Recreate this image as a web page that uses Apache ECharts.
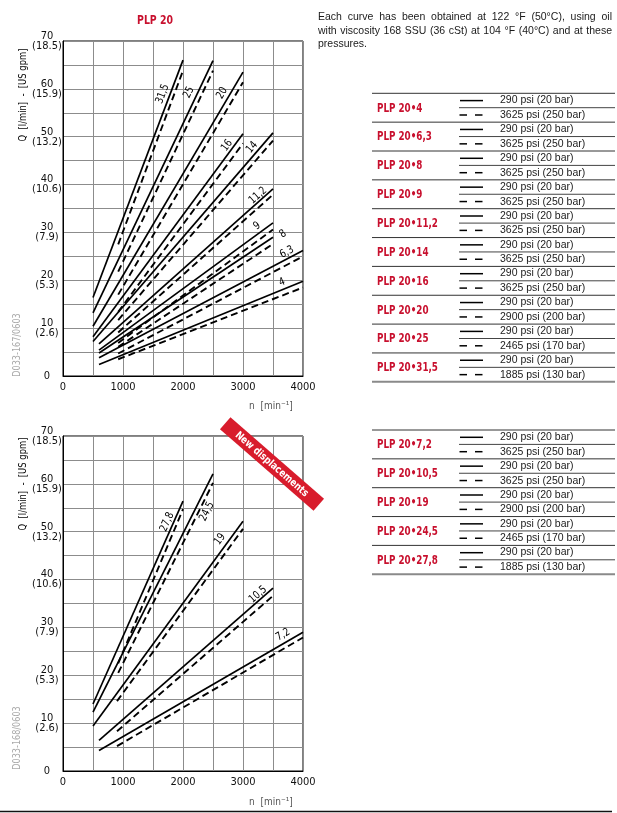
<!DOCTYPE html>
<html>
<head>
<meta charset="utf-8">
<script src="https://cdn.jsdelivr.net/npm/echarts@6/dist/echarts.min.js"></script>
<style>
html, body { margin: 0; padding: 0; background: #fff; }
#main { width: 617px; height: 813px; }
</style>
</head>
<body>
<div id="main"></div>
<script>
// top chart: PLP 20 standard displacements, [rpm, l/min]
var topNames = ['31,5', '25', '20', '16', '14', '11,2', '9', '8', '6,3', '4'];
var topSolidFrom = [[500, 16.4], [500, 13.2], [500, 10.4], [500, 8.2], [500, 7.2], [600, 6.7], [600, 5.4], [600, 4.8], [600, 3.8], [600, 2.4]];
var topSolidTo = [[2000, 66.0], [2500, 65.9], [3000, 63.5], [3000, 50.6], [3500, 50.8], [3500, 39.1], [3500, 32.0], [3500, 29.0], [4000, 26.2], [4000, 19.8]];
var topDashFrom = [[920, 27.5], [920, 21.8], [920, 17.0], [920, 13.4], [920, 11.7], [920, 9.1], [920, 6.9], [920, 6.1], [920, 4.7], [920, 3.5]];
var topDashTo = [[2000, 63.8], [2500, 63.8], [3000, 61.4], [3000, 48.6], [3500, 49.2], [3500, 37.9], [3500, 30.6], [3500, 27.6], [4000, 25.0], [4000, 18.5]];

// bottom chart: new displacements
var botNames = ['27,8', '24,5', '19', '10,5', '7,2'];
var botSolidFrom = [[500, 14.0], [500, 12.3], [500, 9.4], [600, 6.4], [600, 4.3]];
var botSolidTo = [[2000, 56.4], [2500, 62.1], [3000, 52.2], [3500, 38.2], [4000, 29.0]];
var botDashFrom = [[920, 22.5], [920, 20.5], [900, 14.6], [900, 8.3], [900, 5.2]];
var botDashTo = [[2000, 54.7], [2500, 60.2], [3000, 50.6], [3500, 36.6], [4000, 27.9]];

// y tick labels, US gpm under l/min
var gpmTicks = ['', '(2.6)', '(5.3)', '(7.9)', '(10.6)', '(13.2)', '(15.9)', '(18.5)'];

// legend tables
var topModels = ['PLP 20\u20224', 'PLP 20\u20226,3', 'PLP 20\u20228', 'PLP 20\u20229', 'PLP 20\u202211,2', 'PLP 20\u202214', 'PLP 20\u202216', 'PLP 20\u202220', 'PLP 20\u202225', 'PLP 20\u202231,5'];
var topHighP = ['3625 psi (250 bar)', '3625 psi (250 bar)', '3625 psi (250 bar)', '3625 psi (250 bar)', '3625 psi (250 bar)', '3625 psi (250 bar)', '3625 psi (250 bar)', '2900 psi (200 bar)', '2465 psi (170 bar)', '1885 psi (130 bar)'];
var botModels = ['PLP 20\u20227,2', 'PLP 20\u202210,5', 'PLP 20\u202219', 'PLP 20\u202224,5', 'PLP 20\u202227,8'];
var botHighP = ['3625 psi (250 bar)', '3625 psi (250 bar)', '2900 psi (200 bar)', '2465 psi (170 bar)', '1885 psi (130 bar)'];
var lowP = '290 psi (20 bar)';

var noteLines = [
    'Each curve has been obtained at 122 \u00b0F (50\u00b0C), using oil',
    'with viscosity 168 SSU (36 cSt) at 104 \u00b0F (40\u00b0C) and at these',
    'pressures.'
];

var NARROW = "'Liberation Sans Narrow', 'DejaVu Sans Condensed', sans-serif";
var SANS = "'Liberation Sans', Arial, sans-serif";
var RED = '#c8102e';

var myChart = echarts.init(document.getElementById('main'), null, { renderer: 'canvas' });

function xAx(gi) {
    return {
        type: 'value', gridIndex: gi, min: 0, max: 4000, interval: 500,
        axisLine: { show: true, lineStyle: { color: '#000', width: 1 } },
        axisTick: { show: false },
        splitLine: { show: true, lineStyle: { color: '#8c8c8c', width: 1 } },
        axisLabel: {
            margin: 6, fontFamily: NARROW, fontSize: 11, color: '#111',
            formatter: function (v) { return v % 1000 === 0 ? String(v) : ''; }
        }
    };
}
function yAx(gi) {
    return {
        type: 'value', gridIndex: gi, min: 0, max: 70, interval: 5,
        axisLine: { show: true, lineStyle: { color: '#000', width: 1 } },
        axisTick: { show: false },
        splitLine: { show: true, lineStyle: { color: '#8c8c8c', width: 1 } },
        axisLabel: {
            margin: 16, align: 'center', lineHeight: 10, fontFamily: NARROW, fontSize: 11, color: '#111',
            formatter: function (v) {
                if (v % 10 !== 0) return '';
                if (v === 0) return '0';
                return v + '\n' + gpmTicks[v / 10];
            }
        }
    };
}

function addSeries(list, gi, from, to, dashed) {
    for (var i = 0; i < from.length; i++) {
        list.push({
            type: 'line', xAxisIndex: gi, yAxisIndex: gi,
            data: [from[i], to[i]],
            symbol: 'none', silent: true, z: 5,
            lineStyle: { color: '#000', width: dashed ? 1.9 : 1.7, type: dashed ? [7, 4] : 'solid' }
        });
    }
}

var series = [];
addSeries(series, 0, topSolidFrom, topSolidTo, false);
addSeries(series, 0, topDashFrom, topDashTo, true);
addSeries(series, 1, botSolidFrom, botSolidTo, false);
addSeries(series, 1, botDashFrom, botDashTo, true);

option = {
    animation: false,
    backgroundColor: '#fff',
    grid: [
        { left: 63, top: 41, width: 240, height: 335, show: true, borderColor: '#000', borderWidth: 1 },
        { left: 63, top: 436, width: 240, height: 335, show: true, borderColor: '#000', borderWidth: 1 }
    ],
    xAxis: [xAx(0), xAx(1)],
    yAxis: [yAx(0), yAx(1)],
    series: series
};
myChart.setOption(option);

// ---- overlay texts ----
var g = [];

function txt(x, y, s, font, fill, extra) {
    var o = {
        type: 'text', x: x, y: y, z: 20, silent: true,
        style: { text: s, font: font, fill: fill || '#000', align: 'center', verticalAlign: 'middle', textAlign: 'center', textVerticalAlign: 'middle' }
    };
    if (extra) { for (var k in extra) o[k] = extra[k]; }
    if (extra && extra.align) { o.style.align = extra.align; o.style.textAlign = extra.align; delete o.align; }
    return o;
}
function ln(x1, y1, x2, y2, color, w) {
    return { type: 'line', z: 20, silent: true, shape: { x1: x1, y1: y1, x2: x2, y2: y2 }, style: { stroke: color, lineWidth: w } };
}

// curve labels: spot = [rpm along solid line, offset from line in px]
var topSpots = [[1770, 7], [2220, 8], [2757, 7.4], [2813, 6], [3232, 6.5], [3305, 5], [3302, 7], [3640, -3], [3780, 6], [3693, 7]];
var botSpots = [[1827, 6], [2227, -11.6], [2722, 7.8], [3305, 5], [3732, 7.8]];

function curveLabels(gi, names, from, to, spots) {
    for (var i = 0; i < names.length; i++) {
        var a = myChart.convertToPixel({ gridIndex: gi }, from[i]);
        var b = myChart.convertToPixel({ gridIndex: gi }, to[i]);
        var f = (spots[i][0] - from[i][0]) / (to[i][0] - from[i][0]);
        var px = a[0] + (b[0] - a[0]) * f, py = a[1] + (b[1] - a[1]) * f;
        var len = Math.hypot(b[0] - a[0], b[1] - a[1]);
        var dx = (b[0] - a[0]) / len, dy = (b[1] - a[1]) / len;
        var off = spots[i][1];
        g.push(txt(px + dy * off, py - dx * off, names[i], '11px ' + NARROW, '#000',
            { rotation: Math.atan2(-dy, dx), scaleX: 0.9 }));
    }
}
curveLabels(0, topNames, topSolidFrom, topSolidTo, topSpots);
curveLabels(1, botNames, botSolidFrom, botSolidTo, botSpots);

// titles and axis names
g.push(txt(155, 21, 'PLP 20', 'bold 13px ' + NARROW, RED, { scaleX: 0.8 }));
g.push(txt(23, 95, 'Q  [l/min]  -  [US gpm]', '11px ' + NARROW, '#000', { rotation: Math.PI / 2, scaleX: 0.85 }));
g.push(txt(23, 484, 'Q  [l/min]  -  [US gpm]', '11px ' + NARROW, '#000', { rotation: Math.PI / 2, scaleX: 0.85 }));
g.push(txt(17, 345, 'D033-167/0603', '10px ' + NARROW, '#aaa', { rotation: Math.PI / 2, scaleX: 0.9 }));
g.push(txt(17, 738, 'D033-168/0603', '10px ' + NARROW, '#aaa', { rotation: Math.PI / 2, scaleX: 0.9 }));
g.push(txt(271, 406, 'n  [min\u207b\u00b9]', '10px ' + NARROW, '#555'));
g.push(txt(271, 802, 'n  [min\u207b\u00b9]', '10px ' + NARROW, '#555'));
g.push(ln(0, 811.5, 612, 811.5, '#111', 1.5));

// justified note text
var cv = document.createElement('canvas').getContext('2d');
var noteFont = '10.5px ' + SANS;
cv.font = noteFont;
var noteL = 318, noteR = 612, noteY = [17, 31, 44];
noteLines.forEach(function (line, li) {
    var words = line.split(' ');
    var widths = words.map(function (w) { return cv.measureText(w).width; });
    var total = widths.reduce(function (s, w) { return s + w; }, 0);
    var gap = li < noteLines.length - 1 ? (noteR - noteL - total) / (words.length - 1) : cv.measureText(' ').width;
    var x = noteL;
    words.forEach(function (w, wi) {
        g.push(txt(x, noteY[li], w, noteFont, '#1a1a1a', { align: 'left' }));
        x += widths[wi] + gap;
    });
});

// legend tables
function table(y0, models, highP) {
    var h = 28.85;
    for (var i = 0; i < models.length; i++) {
        var gy = y0 + i * h;
        g.push(ln(372, gy, 615, gy, '#333', 1));
        g.push(ln(459, gy + 14.4, 615, gy + 14.4, '#444', 1));
        g.push(ln(460, gy + 7.3, 483, gy + 7.3, '#000', 1.5));
        g.push(ln(459.5, gy + 21.7, 467, gy + 21.7, '#000', 1.5));
        g.push(ln(475, gy + 21.7, 482.5, gy + 21.7, '#000', 1.5));
        g.push(txt(377, gy + 15, models[i], 'bold 12.5px ' + NARROW, RED, { align: 'left', scaleX: 0.78 }));
        g.push(txt(500, gy + 7.2, lowP, '10.5px ' + SANS, '#1a1a1a', { align: 'left' }));
        g.push(txt(500, gy + 21.8, highP[i], '10.5px ' + SANS, '#1a1a1a', { align: 'left' }));
    }
    var yb = y0 + models.length * h;
    g.push(ln(372, yb, 615, yb, '#8a8a8a', 2));
}
table(93.3, topModels, topHighP);
table(430, botModels, botHighP);

// "New displacements" ribbon
g.push({
    type: 'group', x: 272, y: 464, rotation: -41 * Math.PI / 180, z: 30,
    children: [
        { type: 'rect', z: 30, silent: true, shape: { x: -62, y: -8, width: 124, height: 16 }, style: { fill: '#d81c2c' } },
        txt(0, 0.5, 'New displacements', 'bold 10.5px ' + NARROW, '#fff', { z: 31, scaleX: 0.9 })
    ]
});

myChart.setOption({ graphic: g });
</script>
</body>
</html>
